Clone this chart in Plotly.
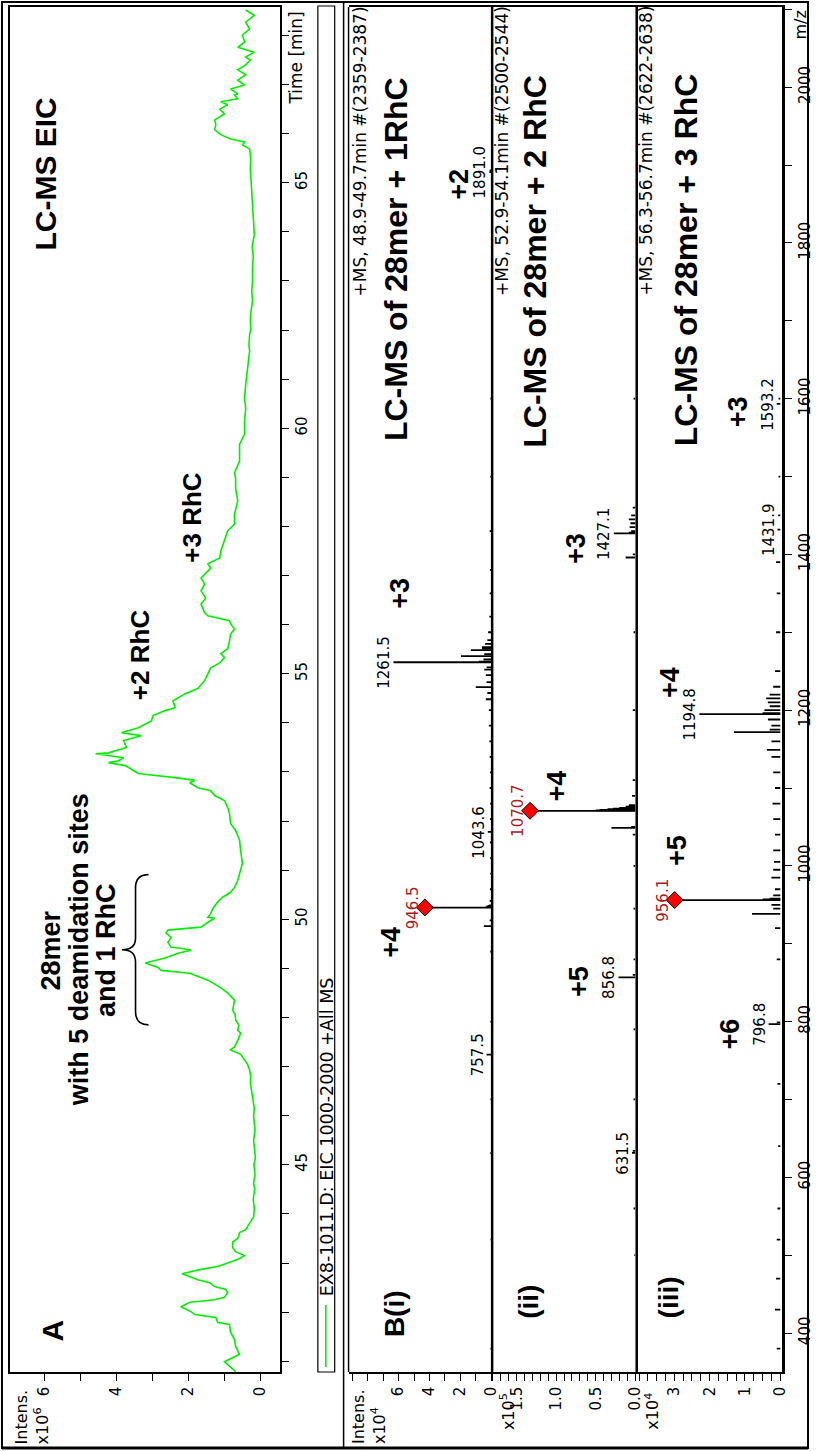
import numpy as np
import plotly.graph_objects as go

W, H = 818, 1451

# ---------------- data ----------------
# Panel A: extracted ion chromatogram (time in min, intensity x10^6)
eic_time = [40.79, 40.99, 41.14, 41.30, 41.44, 41.59, 41.75, 41.79, 41.89, 41.95, 42.01, 42.11,
            42.20, 42.25, 42.30, 42.40, 42.46, 42.52, 42.60, 42.66, 42.78, 42.87, 42.93, 43.01,
            43.07, 43.15, 43.23, 43.31, 43.43, 43.50, 43.62, 43.68, 43.82, 43.94, 44.10, 44.30,
            44.50, 44.63, 44.80, 45.00, 45.15, 45.30, 45.50, 45.70, 45.98, 46.15, 46.32, 46.50,
            46.67, 46.80, 46.93, 47.05, 47.13, 47.25, 47.34, 47.40, 47.55, 47.68, 47.74, 47.85,
            47.95, 48.05, 48.15, 48.25, 48.35, 48.50, 48.62, 48.76, 48.90, 48.96, 49.02, 49.11,
            49.21, 49.31, 49.37, 49.41, 49.43, 49.53, 49.63, 49.72, 49.78, 49.84, 49.94, 50.02,
            50.04, 50.12, 50.22, 50.35, 50.45, 50.55, 50.65, 50.79, 51.00, 51.14, 51.40, 51.61,
            51.81, 51.95, 52.15, 52.28, 52.42, 52.52, 52.62, 52.68, 52.78, 52.83, 52.87, 52.97,
            53.03, 53.13, 53.19, 53.23, 53.29, 53.37, 53.39, 53.50, 53.64, 53.74, 53.80, 53.90,
            54.04, 54.15, 54.25, 54.31, 54.45, 54.59, 54.70, 54.86, 55.00, 55.12, 55.22, 55.33,
            55.41, 55.51, 55.67, 55.81, 55.91, 56.02, 56.08, 56.14, 56.18, 56.24, 56.42, 56.54,
            56.69, 56.83, 56.95, 57.05, 57.15, 57.24, 57.36, 57.50, 57.70, 57.91, 58.05, 58.25,
            58.52, 58.78, 58.98, 59.09, 59.33, 59.67, 59.88, 60.14, 60.41, 60.60, 60.89, 61.00,
            61.22, 61.40, 61.57, 61.70, 61.91, 62.00, 62.24, 62.40, 62.58, 62.80, 63.00, 63.25,
            63.50, 63.70, 63.94, 64.20, 64.40, 64.61, 64.80, 65.00, 65.28, 65.50, 65.69, 65.77,
            65.83, 65.89, 65.98, 66.08, 66.18, 66.28, 66.34, 66.40, 66.50, 66.59, 66.65, 66.71,
            66.79, 66.81, 66.91, 66.99, 67.09, 67.20, 67.30, 67.40, 67.50, 67.56, 67.66, 67.76,
            67.87, 68.01, 68.13, 68.27, 68.41, 68.52]
eic_intens = [0.69, 1.00, 0.58, 0.69, 0.72, 0.83, 0.86, 1.19, 1.24, 1.82, 1.93, 2.21,
              1.96, 1.27, 1.00, 0.91, 0.96, 1.27, 1.41, 1.74, 2.18, 1.65, 1.19, 0.83,
              0.63, 0.44, 0.69, 0.77, 0.77, 0.63, 0.58, 0.41, 0.28, 0.19, 0.17, 0.20,
              0.16, 0.19, 0.15, 0.18, 0.14, 0.16, 0.19, 0.15, 0.19, 0.17, 0.20, 0.24,
              0.28, 0.27, 0.30, 0.36, 0.44, 0.55, 0.83, 0.72, 0.62, 0.55, 0.63, 0.60,
              0.69, 0.70, 0.77, 0.74, 0.72, 0.91, 1.13, 1.46, 1.96, 2.76, 2.84, 3.20,
              2.65, 2.29, 1.93, 2.20, 2.48, 2.57, 2.48, 2.62, 2.57, 1.65, 1.46, 1.27,
              1.46, 1.38, 1.32, 1.19, 1.05, 0.83, 0.72, 0.63, 0.55, 0.50, 0.55, 0.58,
              0.69, 0.83, 0.86, 0.91, 1.00, 1.27, 1.38, 1.74, 1.96, 1.82, 2.20, 3.39,
              3.53, 3.75, 4.22, 3.94, 3.80, 4.58, 4.22, 3.72, 3.80, 3.31, 3.86, 3.39,
              3.03, 2.98, 2.65, 2.37, 2.43, 2.10, 1.74, 1.55, 1.46, 1.38, 1.13, 1.00,
              1.10, 0.91, 0.86, 0.83, 0.72, 0.83, 0.86, 1.19, 1.46, 1.55, 1.65, 1.52,
              1.65, 1.55, 1.65, 1.52, 1.38, 1.46, 1.13, 1.10, 1.00, 0.91, 0.72, 0.72,
              0.63, 0.69, 0.69, 0.72, 0.58, 0.58, 0.44, 0.44, 0.41, 0.44, 0.41, 0.39,
              0.36, 0.33, 0.30, 0.32, 0.30, 0.27, 0.28, 0.26, 0.22, 0.24, 0.22, 0.22,
              0.20, 0.23, 0.17, 0.19, 0.21, 0.22, 0.23, 0.25, 0.28, 0.27, 0.30, 0.50,
              0.44, 0.83, 1.10, 1.27, 1.24, 1.27, 1.13, 1.00, 1.13, 0.91, 1.10, 0.63,
              0.72, 0.63, 0.83, 0.44, 0.63, 0.41, 0.63, 0.41, 0.28, 0.41, 0.17, 0.63,
              0.44, 0.50, 0.30, 0.41, 0.17, 0.41]

# Panel B(i): MS of 28mer + 1 RhC (m/z, intensity x10^4)
ms1_mz = [380, 520, 631, 700, 757.5, 800, 890, 922.5, 930, 946.5, 947.0, 947.8, 948.5, 949.3,
          955, 970, 990, 1010, 1030, 1043.6, 1060, 1080, 1100, 1120, 1140, 1160, 1180, 1200,
          1214, 1222, 1229.5, 1236, 1245, 1252, 1255, 1261.5, 1262.3, 1265, 1269.3, 1272, 1277,
          1279, 1281, 1285, 1290, 1300, 1320, 1350, 1380, 1430, 1500, 1600, 1891.0, 1893]
ms1_int = [0.05, 0.04, 0.06, 0.05, 0.30, 0.05, 0.06, 0.48, 0.10, 4.30, 0.35, 0.30, 0.22, 0.15,
           0.10, 0.08, 0.06, 0.07, 0.08, 0.22, 0.08, 0.07, 0.10, 0.08, 0.10, 0.12, 0.15, 0.15,
           0.35, 0.25, 1.00, 0.30, 0.35, 0.45, 0.30, 6.33, 0.80, 0.50, 1.96, 0.45, 1.32,
           0.60, 0.60, 0.40, 0.25, 0.20, 0.12, 0.10, 0.08, 0.10, 0.06, 0.05, 0.12, 0.10]

# Panel B(ii): MS of 28mer + 2 RhC (m/z, intensity x10^5)
ms2_mz = [500, 560, 631.5, 634, 700, 790, 856.8, 860, 880, 945, 1000, 1040, 1048.8, 1050,
          1070.7, 1071.2, 1072.0, 1072.7, 1073.5, 1074.4, 1076, 1078, 1090, 1110, 1200, 1300,
          1396, 1400, 1427.1, 1428, 1430, 1435, 1440, 1445, 1450, 1460, 1600]
ms2_int = [0.01, 0.02, 0.04, 0.03, 0.02, 0.02, 0.21, 0.03, 0.02, 0.02, 0.02, 0.03, 0.30, 0.05,
           1.33, 0.50, 0.45, 0.35, 0.28, 0.20, 0.12, 0.08, 0.04, 0.03, 0.03, 0.02,
           0.12, 0.03, 0.27, 0.08, 0.05, 0.07, 0.06, 0.08, 0.05, 0.03, 0.02]

# Panel B(iii): MS of 28mer + 3 RhC (m/z, intensity x10^4)
ms3_mz = [380, 430, 470, 520, 560, 640, 720, 796.8, 799, 880, 920, 938.4, 945, 950, 956.1,
          957, 958, 962, 970, 985, 995, 1005, 1020, 1040, 1060, 1080, 1100, 1120, 1140, 1149,
          1160, 1171.8, 1175, 1180, 1188, 1194.8, 1196, 1200, 1205, 1210, 1215, 1220, 1230,
          1250, 1300, 1350, 1390, 1431.9, 1450, 1500, 1593.2, 1600]
ms3_int = [0.10, 0.15, 0.12, 0.10, 0.08, 0.06, 0.08, 0.33, 0.10, 0.10, 0.15, 0.80, 0.20, 0.25,
           2.99, 0.50, 0.30, 0.20, 0.15, 0.25, 0.20, 0.18, 0.20, 0.15, 0.20, 0.22, 0.15, 0.20,
           0.25, 0.38, 0.25, 1.31, 0.30, 0.25, 0.35, 2.29, 0.50, 0.45, 0.30, 0.35, 0.40, 0.30,
           0.20, 0.15, 0.12, 0.10, 0.12, 0.08, 0.06, 0.05, 0.10, 0.05]

# labelled peaks: (m/z, highlighted with a diamond)
ms1_labels = [(757.5, False), (946.5, True), (1043.6, False), (1261.5, False), (1891.0, False)]
ms2_labels = [(631.5, False), (856.8, False), (1070.7, True), (1427.1, False)]
ms3_labels = [(796.8, False), (956.1, True), (1194.8, False), (1431.9, False), (1593.2, False)]

# charge-state annotations: (text, intensity, m/z)
ms1_charges = [("+4", 6.46, 902), ("+3", 5.88, 1350), ("+2", 2.09, 1876)]
ms2_charges = [("+5", 0.71, 851), ("+4", 0.99, 1103), ("+3", 0.75, 1408)]
ms3_charges = [("+6", 1.41, 784), ("+5", 2.93, 1020), ("+4", 3.12, 1235), ("+3", 1.19, 1583)]

SMALL = "DejaVu Sans"
BOLD = "Liberation Sans"
RED = "#b01818"
GREEN = "#00ee00"


def px(x):
    return x / W


def py(y):
    return 1 - y / H


def sticks(mz, inten):
    xs, ys = [], []
    for m, i in zip(mz, inten):
        xs += [0, i, None]
        ys += [m, m, None]
    return xs, ys


fig = go.Figure()

# chromatogram
fig.add_trace(go.Scatter(x=eic_intens, y=eic_time, mode="lines",
                         line=dict(color=GREEN, width=1.6),
                         xaxis="x", yaxis="y", hoverinfo="skip"))

spectra = [("x2", ms1_mz, ms1_int, ms1_labels, ms1_charges),
           ("x3", ms2_mz, ms2_int, ms2_labels, ms2_charges),
           ("x4", ms3_mz, ms3_int, ms3_labels, ms3_charges)]

annotations = []
for xa, mz, inten, labels, charges in spectra:
    xs, ys = sticks(mz, inten)
    fig.add_trace(go.Scatter(x=xs, y=ys, mode="lines", line=dict(color="black", width=1.8),
                             xaxis=xa, yaxis="y2", hoverinfo="skip"))
    lookup = dict(zip(mz, inten))
    dm = [m for m, d in labels if d]
    fig.add_trace(go.Scatter(x=[lookup[m] for m in dm], y=dm, mode="markers",
                             marker=dict(symbol="diamond", size=13, color="red",
                                         line=dict(color="black", width=1)),
                             xaxis=xa, yaxis="y2", hoverinfo="skip"))
    # peak labels sit just beyond the peak apex
    for m, d in labels:
        annotations.append(dict(x=lookup[m], y=m, xref=xa, yref="y2", text=f"{m:.1f}",
                                textangle=-90, showarrow=False, xanchor="center",
                                yanchor="middle", xshift=-12 if d else -9,
                                font=dict(family=SMALL, size=15, color=RED if d else "black")))
    for txt, xi, m in charges:
        annotations.append(dict(x=xi, y=m, xref=xa, yref="y2", text=f"<b>{txt}</b>",
                                textangle=-90, showarrow=False,
                                font=dict(family=BOLD, size=27, color="black")))


# ---------------- text ----------------
def ptext(text, x, y, size, family=BOLD, xanchor="center", yanchor="middle", align="center",
          color="black"):
    annotations.append(dict(x=px(x), y=py(y), xref="paper", yref="paper", text=text,
                            textangle=-90, showarrow=False, xanchor=xanchor, yanchor=yanchor,
                            align=align, font=dict(family=family, size=size, color=color)))


ptext("<b>A</b>", 53, 1330, 30)
ptext("<b>LC-MS EIC</b>", 45, 174, 30)
ptext("<b>28mer</b>", 52, 950, 27)
ptext("<b>with 5 deamidation sites</b>", 80, 950, 27)
ptext("<b>and 1 RhC</b>", 107, 950, 27)
annotations.append(dict(x=3.36, y=55.39, xref="x", yref="y", text="<b>+2 RhC</b>", textangle=-90,
                        showarrow=False, font=dict(family=BOLD, size=26, color="black")))
annotations.append(dict(x=1.90, y=58.18, xref="x", yref="y", text="<b>+3 RhC</b>", textangle=-90,
                        showarrow=False, font=dict(family=BOLD, size=26, color="black")))

ptext("<b>B(i)</b>", 398, 1314, 28)
ptext("<b>(ii)</b>", 533, 1302, 28)
ptext("<b>(iii)</b>", 675, 1297, 28)

ptext("<b>LC-MS of 28mer + 1RhC</b>", 400, 259, 32)
ptext("<b>LC-MS of 28mer + 2 RhC</b>", 540, 261, 32)
ptext("<b>LC-MS of 28mer + 3 RhC</b>", 693, 260, 32)

ptext("+MS, 48.9-49.7min #(2359-2387)", 364, 4, 17, SMALL, yanchor="top")
ptext("+MS, 52.9-54.1min #(2500-2544)", 507, 4, 17, SMALL, yanchor="top")
ptext("+MS, 56.3-56.7min #(2622-2638)", 652, 4, 17, SMALL, yanchor="top")

ptext("Time [min]", 299, 10, 17, SMALL, yanchor="top")
ptext("m/z", 808, 9, 16, SMALL, yanchor="top")

ptext("Intens.<br>x10<sup>6</sup>", 10, 1446, 16, SMALL, xanchor="left", yanchor="bottom",
      align="left")
ptext("Intens.<br>x10<sup>4</sup>", 350, 1446, 16, SMALL, xanchor="left", yanchor="bottom",
      align="left")
ptext("x10<sup>5</sup>", 500, 1432, 16, SMALL, xanchor="left", yanchor="bottom", align="left")
ptext("x10<sup>4</sup>", 646, 1432, 16, SMALL, xanchor="left", yanchor="bottom", align="left")

ptext("EX8-1011.D: EIC 1000-2000 +All MS", 330, 1298, 17.5, SMALL, yanchor="bottom")

# ---------------- frames / decorations ----------------
shapes = []


def pline(x0, y0, x1, y1, width=1.5, color="black"):
    shapes.append(dict(type="line", xref="paper", yref="paper", x0=px(x0), y0=py(y0),
                       x1=px(x1), y1=py(y1), line=dict(color=color, width=width)))


shapes.append(dict(type="rect", xref="paper", yref="paper", x0=px(2), y0=py(1448),
                   x1=px(816), y1=py(2), line=dict(color="black", width=2)))
pline(2, 1448, 816, 1448, 3)
pline(347, 2, 347, 1448, 1.5)
pline(352, 7, 352, 1372, 1.5)
pline(497, 7, 497, 1372, 2.5)
pline(643, 7, 643, 1372, 2.5)
# legend box of the chromatogram
shapes.append(dict(type="rect", xref="paper", yref="paper", x0=px(321), y0=py(1372),
                   x1=px(338), y1=py(6), line=dict(color="black", width=1.2)))
pline(329, 1305, 329, 1367, 1.6, GREEN)

# curly brace marking the 28mer peak
shapes.append(dict(type="path", xref="x", yref="y",
                   path="M 3.11,50.91 Q 3.47,50.91 3.47,50.64 L 3.47,49.62 Q 3.47,49.38 3.85,49.38 "
                        "Q 3.47,49.38 3.47,49.13 L 3.47,48.12 Q 3.47,47.85 3.11,47.85",
                   line=dict(color="black", width=1.6)))

# ---------------- axes ----------------
tickfont = dict(family=SMALL, size=15, color="black")
vdom = [py(1372), py(7)]


def xaxis(domain, rng, tickvals, ticktext, minor_vals, anchor):
    return dict(domain=[px(domain[0]), px(domain[1])], range=rng, anchor=anchor,
                tickmode="array", tickvals=tickvals, ticktext=ticktext, ticks="outside",
                ticklen=7, tickwidth=1.2, tickcolor="black", tickangle=-90, tickfont=tickfont,
                minor=dict(tickmode="array", tickvals=minor_vals, ticks="outside", ticklen=7,
                           tickwidth=1.2, tickcolor="black", showgrid=False),
                showline=True, mirror=True, linecolor="black", linewidth=1.5,
                showgrid=False, zeroline=False, fixedrange=True)


layout_axes = dict(
    xaxis=xaxis((10, 283), [6.96, -0.55], [0, 2, 4, 6], ["0", "2", "4", "6"],
                [1, 3, 5], "y"),
    xaxis2=xaxis((352, 497), [9.24, -0.06], [0, 2, 4, 6], ["0", "2", "4", "6"],
                 [1, 3, 5, 7, 8, 9], "y2"),
    xaxis3=xaxis((497, 643), [1.81, -0.02], [0, 0.5, 1.0, 1.5], ["0.0", "0.5", "1.0", "1.5"],
                 [round(v, 1) for v in np.arange(0.1, 1.81, 0.1)], "y2"),
    xaxis4=xaxis((643, 790), [4.065, -0.056], [0, 1, 2, 3], ["0", "1", "2", "3"],
                 [round(v, 2) for v in np.arange(0.25, 4.01, 0.25)], "y2"),
    yaxis=dict(domain=vdom, range=[40.78, 68.58], anchor="x", side="right",
               tickmode="array", tickvals=[45, 50, 55, 60, 65], ticks="outside", ticklen=7,
               tickwidth=1.2, tickcolor="black", tickangle=-90, tickfont=tickfont,
               minor=dict(tickmode="array", tickvals=list(range(41, 69)), ticks="outside",
                          ticklen=7, tickwidth=1.2, tickcolor="black", showgrid=False),
               showline=True, mirror=True, linecolor="black", linewidth=1.5,
               showgrid=False, zeroline=False, fixedrange=True),
    yaxis2=dict(domain=vdom, range=[350, 2103], anchor="x4", side="right",
                tickmode="array", tickvals=list(range(400, 2001, 200)), ticks="outside",
                ticklen=7, tickwidth=1.2, tickcolor="black", tickangle=-90, tickfont=tickfont,
                minor=dict(tickmode="array", tickvals=list(range(400, 2101, 100)),
                           ticks="outside", ticklen=7, tickwidth=1.2, tickcolor="black",
                           showgrid=False),
                showline=True, linecolor="black", linewidth=2.5,
                showgrid=False, zeroline=False, fixedrange=True),
)

fig.update_layout(width=W, height=H, margin=dict(l=0, r=0, t=0, b=0, pad=0),
                  paper_bgcolor="white", plot_bgcolor="white", showlegend=False,
                  annotations=annotations, shapes=shapes, **layout_axes)

fig.write_html("out.html")
